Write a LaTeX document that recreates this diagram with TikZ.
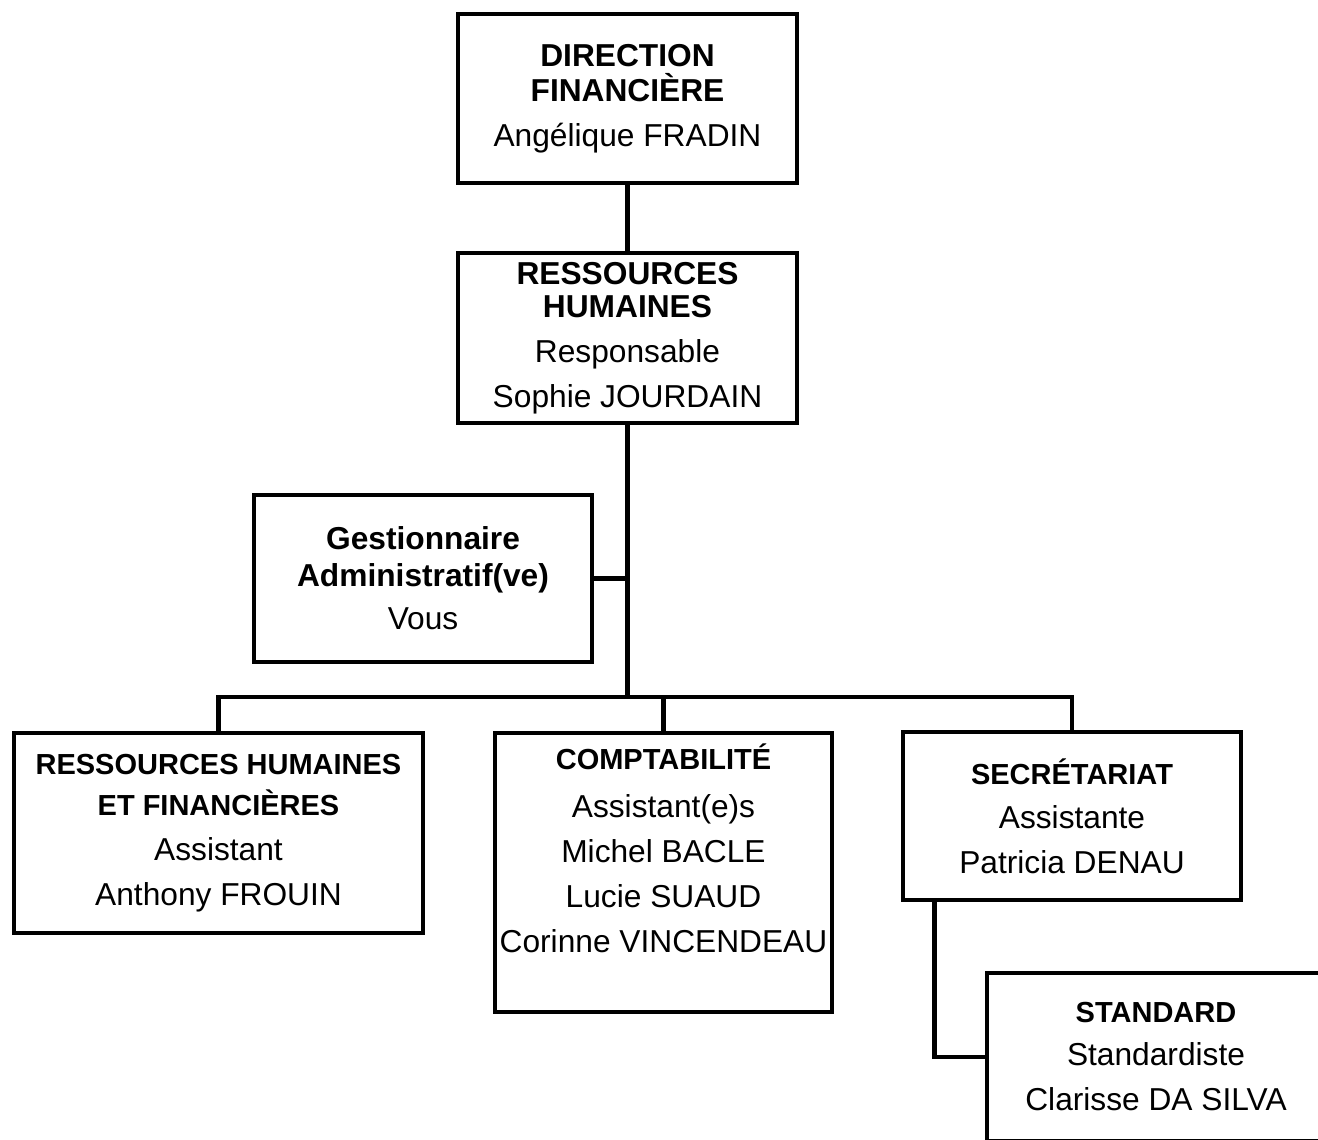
\documentclass[tikz,border=0pt]{standalone}
\usepackage{fontspec}
\setmainfont{Liberation Sans}
\newcommand{\hd}[1]{{\fontsize{29}{45}\selectfont\bfseries #1}}
\begin{document}
\begin{tikzpicture}[x=1pt,y=-1pt,
  orgbox/.style={draw=black, line width=4.6pt, rectangle, align=center, inner sep=0pt,
     font=\fontsize{31.7}{45}\selectfont},
  link/.style={draw=black, line width=4.6pt, line join=miter}]
\useasboundingbox (0,0) rectangle (1318,1140);
\clip (0,0) rectangle (1318,1140);
\node[orgbox, minimum width=339pt, minimum height=169pt] (dir) at (627.5,98.5)
  {\textbf{DIRECTION}\\[-10pt]\textbf{FINANCIÈRE}\\Angélique FRADIN};
\node[orgbox, minimum width=339pt, minimum height=170pt] (rh) at (627.5,338)
  {\textbf{RESSOURCES}\\[-12pt]\textbf{HUMAINES}\\Responsable\\Sophie JOURDAIN};
\node[orgbox, minimum width=338pt, minimum height=167pt] (gest) at (423,578.5)
  {\textbf{Gestionnaire}\\[-8pt]\textbf{Administratif(ve)}\\[-2pt]Vous};
\node[orgbox, minimum width=409pt, minimum height=200pt] (rhf) at (218.5,833)
  {\hd{RESSOURCES HUMAINES}\\[-4pt]\hd{ET FINANCIÈRES}\\Assistant\\Anthony FROUIN};
\node[orgbox, minimum width=337pt, minimum height=279pt] (cpt) at (663.5,872.5)
  {\hd{COMPTABILITÉ}\\[3pt]Assistant(e)s\\Michel BACLE\\Lucie SUAUD\\Corinne VINCENDEAU\\[3pt]\mbox{}};
\node[orgbox, minimum width=338pt, minimum height=168pt] (sec) at (1072,816)
  {\hd{SECRÉTARIAT}\\[-1pt]Assistante\\Patricia DENAU};
\node[orgbox, minimum width=338pt, minimum height=168pt] (std) at (1156,1057)
  {\hd{STANDARD}\\[-2pt]Standardiste\\Clarisse DA SILVA};
\coordinate (hub) at (627.5,697);
\draw[link] (dir.south) -- (rh.north);
\draw[link] (rh.south) -- (hub);
\draw[link] (gest.east) -- (gest.east -| hub);
\draw[link] (rhf.north) |- (hub) -| (sec.north);
\draw[link] (cpt.north) -- (cpt.north |- hub);
\draw[link] ([xshift=34pt]sec.south west) |- (std.west);
\end{tikzpicture}
\end{document}
